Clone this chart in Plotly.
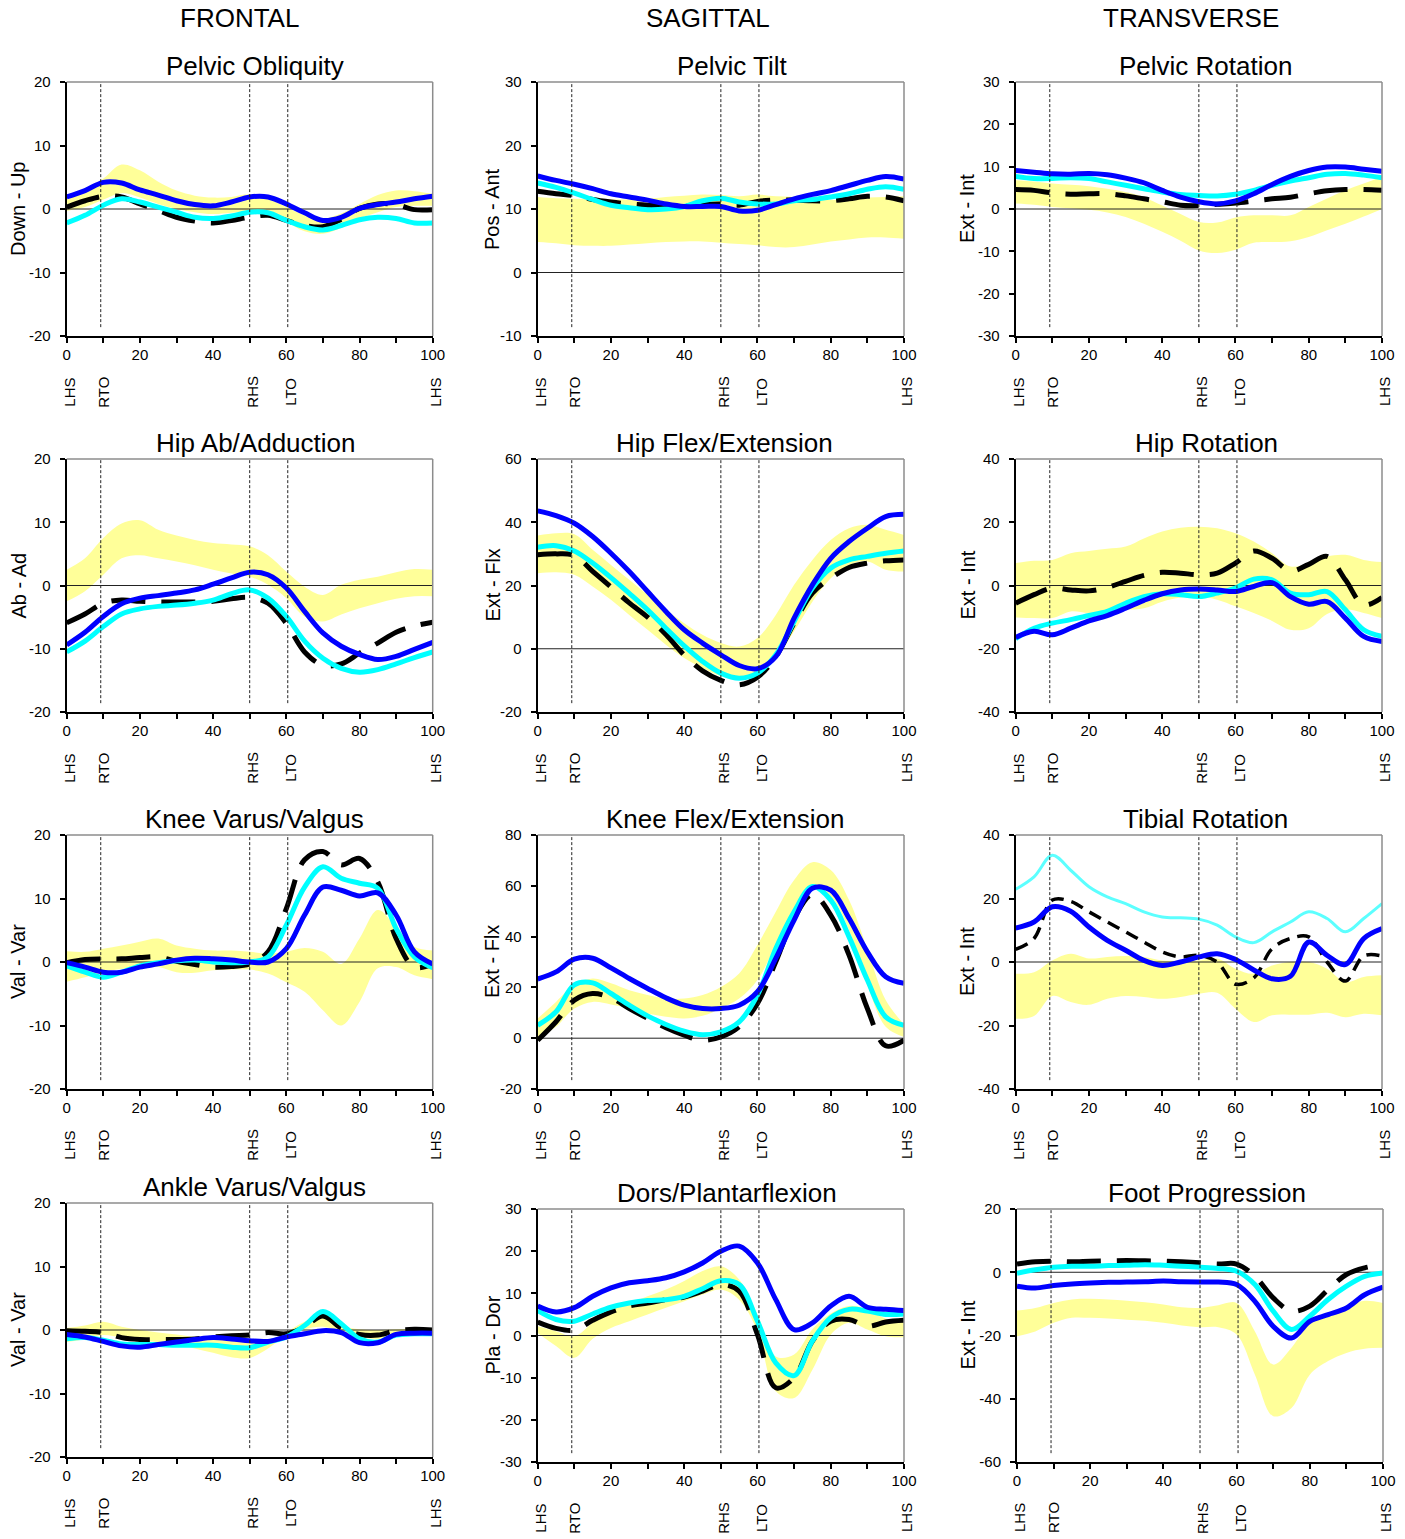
import plotly.graph_objects as go

W, H = 1405, 1539

# ---------------- data ----------------
PCT = list(range(0, 101, 5))
EVENTS = [0, 9.3, 50, 60.4, 100]
EVENT_LABELS = ["LHS", "RTO", "RHS", "LTO", "LHS"]
PLANES = ["FRONTAL", "SAGITTAL", "TRANSVERSE"]

TITLES = ["Pelvic Obliquity", "Pelvic Tilt", "Pelvic Rotation",
          "Hip Ab/Adduction", "Hip Flex/Extension", "Hip Rotation",
          "Knee Varus/Valgus", "Knee Flex/Extension", "Tibial Rotation",
          "Ankle Varus/Valgus", "Dors/Plantarflexion", "Foot Progression"]
YLABELS = ["Down - Up", "Pos - Ant", "Ext - Int",
           "Ab - Ad", "Ext - Flx", "Ext - Int",
           "Val - Var", "Ext - Flx", "Ext - Int",
           "Val - Var", "Pla - Dor", "Ext - Int"]
YMIN = [-20, -10, -30, -20, -20, -40, -20, -20, -40, -20, -30, -60]
YMAX = [20, 30, 30, 20, 60, 40, 20, 80, 40, 20, 30, 20]
YSTEP = [10, 10, 10, 10, 20, 20, 10, 20, 20, 10, 10, 20]

# Pelvic Obliquity
PO_HI = [1.5, 3.0, 4.8, 7.0, 6.1, 4.3, 2.9, 2.1, 1.8, 1.9, 2.3, 1.6, 0.3, -1.0, -1.5, -0.7, 0.8, 2.2, 2.9, 2.8, 2.4]
PO_LO = [-0.3, 0.3, 1.5, 2.5, 1.8, 0.8, 0.0, -0.5, -0.8, -0.6, -0.3, -0.6, -2.0, -3.5, -3.9, -3.0, -1.5, -0.5, 0.3, 0.5, 0.5]
PO_BLACK = [0.3, 1.3, 2.0, 1.9, 0.8, -0.2, -1.3, -1.9, -2.2, -1.8, -1.3, -1.0, -1.8, -2.6, -2.8, -1.6, 0.1, 0.8, 0.7, -0.1, -0.1]
PO_CYAN = [-2.2, -1.0, 0.6, 1.6, 1.1, 0.3, -0.5, -1.3, -1.5, -1.1, -0.5, -0.6, -1.8, -2.8, -3.3, -2.6, -1.7, -1.3, -1.5, -2.2, -2.2]
PO_BLUE = [1.9, 2.9, 4.2, 4.1, 3.0, 2.2, 1.3, 0.7, 0.5, 1.1, 1.9, 1.9, 0.8, -0.6, -1.8, -1.3, 0.1, 0.7, 1.1, 1.6, 2.0]

# Pelvic Tilt
PT_HI = [11.9, 11.7, 11.6, 11.5, 11.5, 11.5, 11.6, 11.9, 12.1, 12.3, 12.2, 12.0, 12.3, 12.0, 11.9, 11.6, 11.4, 11.6, 11.8, 11.9, 12.0]
PT_LO = [4.8, 4.6, 4.3, 4.2, 4.2, 4.4, 4.6, 4.8, 4.9, 4.9, 4.7, 4.5, 4.3, 4.0, 4.0, 4.4, 4.9, 5.2, 5.5, 5.5, 5.3]
PT_BLACK = [12.8, 12.4, 12.1, 11.5, 11.1, 10.8, 10.6, 10.5, 10.5, 10.7, 10.8, 10.6, 11.2, 11.4, 11.4, 11.3, 11.3, 11.6, 12.0, 11.9, 11.3]
PT_CYAN = [14.1, 13.4, 12.5, 11.5, 10.6, 10.2, 9.9, 10.0, 10.4, 11.3, 11.7, 11.1, 10.8, 10.8, 11.3, 11.5, 11.9, 12.4, 13.1, 13.5, 13.1]
PT_BLUE = [15.2, 14.5, 13.9, 13.2, 12.4, 11.9, 11.4, 10.8, 10.4, 10.4, 10.4, 9.7, 9.8, 10.7, 11.6, 12.3, 12.9, 13.7, 14.5, 15.1, 14.7]

# Pelvic Rotation
PR_HI = [6.8, 6.5, 6.0, 5.7, 5.4, 4.8, 4.0, 2.8, 0.8, -1.2, -3.1, -3.2, -2.0, -1.5, -1.5, -1.5, 0.5, 2.5, 4.4, 6.0, 7.6]
PR_LO = [1.3, 1.0, 0.5, 0.2, -0.2, -0.8, -1.9, -3.5, -5.4, -7.5, -9.8, -10.4, -9.6, -8.0, -7.8, -7.6, -6.6, -5.0, -3.5, -1.8, 0.0]
PR_BLACK = [4.6, 4.4, 3.8, 3.5, 3.6, 3.6, 3.1, 2.4, 1.7, 0.9, 0.8, 1.1, 1.4, 1.9, 2.4, 2.8, 3.6, 4.3, 4.6, 4.6, 4.4]
PR_CYAN = [7.7, 7.2, 7.2, 7.4, 7.2, 6.4, 5.6, 4.8, 4.0, 3.4, 3.2, 3.1, 3.5, 4.4, 5.6, 6.6, 7.4, 8.2, 8.4, 8.0, 7.4]
PR_BLUE = [9.1, 8.7, 8.3, 8.2, 8.4, 8.1, 7.3, 6.2, 4.4, 2.8, 1.7, 1.2, 1.9, 3.6, 5.8, 7.7, 9.1, 9.9, 9.9, 9.4, 8.9]

# Hip Ab/Adduction
HA_HI = [2.5, 4.3, 7.5, 9.8, 10.3, 8.8, 7.9, 7.2, 6.7, 6.5, 6.2, 4.8, 2.2, -0.2, -1.5, 0.1, 0.9, 1.4, 2.1, 2.6, 2.5]
HA_LO = [-2.5, -0.9, 1.7, 4.3, 4.8, 4.3, 3.8, 3.2, 2.5, 1.9, 1.4, 0.1, -2.0, -4.9, -5.7, -4.6, -3.6, -2.8, -2.1, -1.7, -1.7]
HA_BLACK = [-5.9, -4.5, -2.8, -2.3, -2.5, -2.6, -2.6, -2.6, -2.5, -2.1, -1.9, -2.8, -6.0, -10.5, -12.6, -12.4, -10.7, -9.1, -7.4, -6.4, -5.8]
HA_CYAN = [-10.5, -8.8, -6.5, -4.5, -3.7, -3.3, -3.1, -2.8, -2.3, -1.3, -0.7, -2.0, -4.9, -8.8, -11.5, -13.1, -13.7, -13.3, -12.4, -11.4, -10.5]
HA_BLUE = [-9.4, -7.4, -4.9, -2.9, -2.0, -1.6, -1.2, -0.7, 0.2, 1.2, 2.1, 1.7, -0.4, -4.1, -7.5, -9.6, -10.9, -11.7, -11.2, -10.1, -9.0]

# Hip Flex/Extension
HF_HI = [35.8, 36.5, 36.2, 31.3, 26.5, 21.8, 17.1, 12.3, 8.1, 4.4, 1.8, 0.7, 3.4, 10.7, 20.2, 28.1, 34.4, 38.1, 39.2, 37.6, 36.0]
HF_LO = [23.9, 24.2, 23.4, 19.7, 15.5, 10.7, 6.0, 1.3, -2.9, -6.1, -8.7, -9.8, -8.2, -2.9, 5.5, 14.9, 22.3, 26.5, 27.6, 25.0, 24.4]
HF_BLACK = [29.7, 30.0, 29.5, 24.5, 19.5, 14.5, 10.0, 4.5, -2.0, -7.0, -10.0, -11.4, -9.0, -2.5, 8.1, 17.6, 22.3, 25.7, 27.1, 27.8, 28.1]
HF_CYAN = [32.1, 32.6, 30.9, 27.1, 22.5, 17.5, 12.3, 6.5, 0.9, -4.0, -7.7, -9.3, -7.7, -1.9, 8.6, 19.2, 25.5, 28.1, 29.2, 30.2, 30.9]
HF_BLUE = [43.6, 42.1, 39.7, 35.5, 30.2, 24.4, 18.1, 11.8, 6.0, 1.8, -1.9, -5.3, -6.3, -2.5, 9.7, 20.2, 28.6, 33.9, 38.1, 41.8, 42.5]

# Hip Rotation
HR_HI = [7.1, 7.8, 8.1, 10.2, 10.9, 11.6, 12.3, 14.9, 17.1, 18.3, 18.6, 18.1, 16.5, 13.9, 10.2, 6.0, 7.1, 9.2, 9.7, 8.1, 7.4]
HR_LO = [-10.1, -10.3, -10.3, -8.2, -8.7, -8.0, -7.7, -7.2, -5.1, -3.8, -3.5, -4.5, -6.6, -8.7, -11.2, -14.0, -13.5, -9.0, -7.5, -8.7, -10.3]
HR_BLACK = [-5.6, -2.9, -0.8, -1.4, -1.7, -0.6, 1.3, 3.2, 4.2, 3.9, 3.4, 3.9, 7.1, 10.9, 8.6, 4.6, 6.7, 9.2, 1.8, -6.1, -3.8]
HR_CYAN = [-16.8, -13.5, -11.9, -10.8, -9.5, -8.2, -5.6, -3.5, -2.6, -2.9, -3.5, -2.4, -0.8, 2.0, 1.8, -2.4, -2.9, -1.9, -7.7, -14.0, -16.1]
HR_BLUE = [-16.4, -14.5, -15.6, -13.5, -11.2, -9.5, -7.2, -4.7, -2.6, -1.4, -1.1, -1.4, -1.9, -0.3, 0.9, -3.5, -5.9, -5.1, -10.3, -16.1, -17.7]

# Knee Varus/Valgus
KV_HI = [1.7, 1.6, 2.1, 2.6, 3.2, 3.7, 2.6, 2.1, 1.8, 1.8, 1.6, 1.3, 1.6, 2.2, 1.6, -0.3, 3.7, 8.2, 5.5, 2.4, 1.8]
KV_LO = [-3.1, -2.4, -1.6, -1.1, -1.1, -0.8, -1.6, -1.7, -1.3, -1.2, -1.2, -1.8, -3.2, -4.7, -7.6, -10.0, -6.3, -1.0, -0.8, -2.1, -2.7]
KV_BLACK = [-0.1, 0.4, 0.5, 0.5, 0.7, 0.8, 0.1, -0.4, -0.8, -0.7, -0.3, 1.6, 8.4, 16.1, 17.4, 15.3, 16.3, 12.6, 3.7, -0.8, -0.3]
KV_CYAN = [-0.6, -1.6, -2.4, -1.6, -0.6, -0.1, 0.2, 0.3, 0.0, -0.1, 0.0, 0.8, 5.8, 11.8, 15.0, 13.2, 12.4, 11.6, 5.3, 0.8, -0.9]
KV_BLUE = [-0.1, -0.8, -1.6, -1.6, -0.8, -0.3, 0.3, 0.6, 0.5, 0.3, 0.0, 0.0, 2.1, 7.4, 11.8, 11.3, 10.4, 10.9, 7.4, 1.6, -0.3]

# Knee Flex/Extension
KF_HI = [7.8, 14.3, 20.9, 23.5, 21.6, 18.9, 17.0, 15.6, 15.6, 17.0, 20.2, 25.5, 36.7, 49.8, 62.3, 69.3, 66.2, 54.4, 35.0, 15.0, 5.5]
KF_LO = [-0.1, 4.5, 11.7, 14.3, 13.3, 11.7, 9.7, 8.4, 7.8, 8.8, 11.7, 15.6, 22.9, 36.7, 49.8, 58.3, 55.7, 42.6, 20.9, 4.5, 0.5]
KF_BLACK = [-0.8, 6.5, 15.0, 17.6, 15.9, 11.7, 7.8, 4.1, 1.2, -0.8, 0.5, 4.5, 13.7, 30.1, 47.2, 56.6, 48.5, 32.7, 11.7, -3.0, -0.8]
KF_CYAN = [5.1, 10.4, 21.0, 21.8, 17.6, 13.0, 8.8, 5.4, 2.8, 1.4, 2.5, 6.4, 17.0, 35.3, 49.8, 59.7, 54.4, 39.9, 22.9, 8.4, 5.1]
KF_BLUE = [23.3, 26.1, 31.1, 31.5, 27.7, 23.5, 19.6, 15.9, 13.0, 11.7, 11.7, 13.0, 18.3, 31.4, 46.5, 59.0, 58.3, 47.2, 34.0, 24.2, 21.6]

# Tibial Rotation
TR_HI = [-3.7, -3.2, 0.5, 2.6, 1.1, 1.6, 1.9, 1.6, 0.5, 0.5, 0.5, 1.1, -2.1, -3.7, -1.1, 0.0, 0.0, -2.1, -6.3, -4.7, -4.2]
TR_LO = [-17.9, -17.0, -10.7, -12.6, -13.5, -11.6, -10.7, -11.0, -11.6, -11.0, -10.0, -9.7, -14.7, -18.9, -16.8, -16.6, -16.6, -16.0, -17.4, -16.3, -16.8]
TR_BLACK = [4.0, 7.4, 19.5, 19.1, 15.8, 12.6, 9.5, 6.3, 3.2, 1.6, 2.1, 0.0, -7.0, -5.0, 4.2, 7.4, 7.9, 0.0, -6.0, 1.9, 1.9]
TR_CYAN = [22.9, 26.8, 33.6, 28.9, 23.7, 20.5, 18.4, 15.8, 14.2, 13.9, 13.5, 11.6, 7.9, 6.1, 9.5, 12.6, 15.8, 13.7, 9.5, 13.7, 18.4]
TR_BLUE = [10.7, 12.6, 17.4, 16.0, 11.0, 6.8, 3.7, 0.5, -1.1, 0.0, 1.6, 2.6, 0.8, -2.5, -5.3, -4.5, 6.3, 2.1, -0.8, 7.4, 10.5]

# Ankle Varus/Valgus
AV_HI = [0.3, 0.7, 1.3, 0.5, 0.0, -0.4, -0.7, -1.1, -1.4, -1.6, -1.9, -1.6, -0.3, 1.3, 2.1, 0.7, 0.1, 0.0, 0.1, 0.2, 0.1]
AV_LO = [-1.9, -1.4, -0.8, -1.2, -1.6, -1.9, -2.3, -2.9, -3.6, -4.3, -4.4, -2.9, -0.9, 0.1, 0.5, -0.3, -1.1, -1.4, -0.8, -0.7, -0.6]
AV_BLACK = [-0.1, -0.2, -0.4, -1.2, -1.5, -1.5, -1.5, -1.4, -1.1, -0.9, -0.8, -0.4, -0.6, 0.5, 2.2, 0.3, -0.7, -0.8, -0.1, 0.1, 0.0]
AV_CYAN = [-1.4, -1.2, -1.6, -2.2, -2.3, -2.3, -2.4, -2.4, -2.4, -2.7, -2.8, -1.9, -1.1, 0.7, 2.9, 1.0, -1.4, -1.9, -0.8, -0.6, -0.6]
AV_BLUE = [-0.7, -1.1, -1.8, -2.5, -2.7, -2.3, -1.9, -1.5, -1.2, -1.4, -1.7, -1.8, -1.1, -0.6, -0.1, -0.4, -2.0, -2.0, -0.7, -0.5, -0.5]

# Dors/Plantarflexion
DP_HI = [2.2, 1.0, -0.2, 3.0, 6.2, 7.7, 9.3, 10.9, 12.9, 15.3, 16.4, 13.3, 5.0, -5.0, -4.5, 1.5, 5.2, 7.0, 6.2, 4.0, 3.4]
DP_LO = [0.6, -2.5, -5.3, -0.8, 1.8, 3.4, 5.0, 6.6, 8.1, 9.7, 10.9, 8.5, 1.0, -13.2, -14.8, -8.1, 0.2, 3.0, 1.4, -0.2, -0.4]
DP_BLACK = [3.2, 1.7, 1.3, 3.6, 5.6, 7.0, 7.7, 8.5, 9.1, 10.5, 12.1, 10.5, 0.2, -12.4, -10.0, -1.3, 3.4, 3.8, 2.2, 3.2, 3.6]
DP_CYAN = [5.9, 3.8, 3.4, 5.1, 6.7, 7.7, 8.3, 8.5, 9.3, 11.1, 13.0, 12.1, 3.4, -6.5, -9.5, -1.3, 4.2, 6.2, 5.8, 5.0, 5.1]
DP_BLUE = [7.0, 5.6, 6.6, 9.3, 11.3, 12.5, 13.0, 13.7, 15.1, 17.2, 20.0, 21.2, 17.2, 8.5, 1.4, 3.0, 7.0, 9.3, 6.7, 6.2, 5.9]

# Foot Progression
FP_HI = [-12.1, -11.3, -9.7, -8.6, -8.4, -8.6, -9.0, -9.5, -10.2, -11.1, -11.3, -10.4, -9.7, -18.7, -29.2, -23.9, -16.0, -13.4, -10.7, -9.0, -9.7]
FP_LO = [-20.2, -18.7, -16.0, -14.4, -14.4, -14.6, -15.0, -15.3, -16.0, -16.8, -17.4, -17.4, -19.7, -32.4, -45.5, -42.9, -32.4, -28.1, -25.5, -24.2, -23.9]
FP_BLACK = [2.6, 3.3, 3.5, 3.3, 3.5, 3.6, 3.7, 3.6, 3.5, 3.3, 3.0, 2.6, 2.6, -1.3, -8.1, -12.3, -10.7, -5.5, -0.7, 1.4, 2.4]
FP_CYAN = [-0.3, 0.8, 1.6, 1.9, 1.9, 2.1, 2.2, 2.4, 2.2, 1.9, 1.6, 1.2, 0.3, -3.9, -12.3, -18.1, -13.9, -8.6, -4.4, -1.3, -0.2]
FP_BLUE = [-4.4, -5.0, -4.2, -3.7, -3.4, -3.2, -3.1, -3.0, -2.8, -3.0, -3.1, -3.1, -3.9, -9.2, -17.1, -20.8, -15.5, -13.4, -11.3, -7.1, -4.7]

PANELS = [
    (PO_HI, PO_LO, PO_BLACK, PO_CYAN, PO_BLUE),
    (PT_HI, PT_LO, PT_BLACK, PT_CYAN, PT_BLUE),
    (PR_HI, PR_LO, PR_BLACK, PR_CYAN, PR_BLUE),
    (HA_HI, HA_LO, HA_BLACK, HA_CYAN, HA_BLUE),
    (HF_HI, HF_LO, HF_BLACK, HF_CYAN, HF_BLUE),
    (HR_HI, HR_LO, HR_BLACK, HR_CYAN, HR_BLUE),
    (KV_HI, KV_LO, KV_BLACK, KV_CYAN, KV_BLUE),
    (KF_HI, KF_LO, KF_BLACK, KF_CYAN, KF_BLUE),
    (TR_HI, TR_LO, TR_BLACK, TR_CYAN, TR_BLUE),
    (AV_HI, AV_LO, AV_BLACK, AV_CYAN, AV_BLUE),
    (DP_HI, DP_LO, DP_BLACK, DP_CYAN, DP_BLUE),
    (FP_HI, FP_LO, FP_BLACK, FP_CYAN, FP_BLUE),
]

# ---------------- layout geometry (pixels) ----------------
COL_X = [(66.7, 432.7), (537.7, 904.0), (1015.7, 1382.0)]
ROW_Y = [(82, 336), (459, 712), (835, 1089), (1203, 1457)]
TITLE_X = [255, 732, 1205, 255, 724, 1206, 254, 725, 1205, 254, 727, 1207]
TITLE_Y = [66, 66, 66, 443, 443, 443, 819, 819, 819, 1187, 1193, 1193]
YLAB_X = [18, 492, 967]
HEAD_X = [239, 708, 1191]

FONT = "Arial, 'Liberation Sans', sans-serif"

fig = go.Figure()
layout = dict(
    width=W, height=H, autosize=False,
    margin=dict(l=0, r=0, t=0, b=0, pad=0, autoexpand=False),
    paper_bgcolor="white", plot_bgcolor="white",
    showlegend=False, hovermode=False,
    font=dict(family=FONT, color="black", size=15),
)
shapes = []
annotations = []

for i in range(12):
    r, c = divmod(i, 3)
    x0, x1 = COL_X[c]
    y0, y1 = ROW_Y[r]
    if r == 3 and c > 0:
        y0, y1 = 1209, 1462
    if r == 3 and c == 2:
        x0, x1 = 1017, 1383
    n = "" if i == 0 else str(i + 1)
    xa, ya = "x" + n, "y" + n
    hi, lo, blk, cyn, blu = PANELS[i]

    fig.add_trace(go.Scatter(x=PCT, y=hi, xaxis=xa, yaxis=ya, mode="lines",
                             line=dict(width=0, shape="spline", color="#FFFF99")))
    fig.add_trace(go.Scatter(x=PCT, y=lo, xaxis=xa, yaxis=ya, mode="lines",
                             fill="tonexty", fillcolor="#FFFF99",
                             line=dict(width=0, shape="spline", color="#FFFF99")))
    # zero reference line drawn above the normal band
    fig.add_trace(go.Scatter(x=[0, 100], y=[0, 0], xaxis=xa, yaxis=ya, mode="lines",
                             line=dict(width=1, color="#222222")))
    tib = (i == 8)
    fig.add_trace(go.Scatter(x=PCT, y=blk, xaxis=xa, yaxis=ya, mode="lines",
                             line=dict(width=3.5 if tib else 5, shape="spline", color="black",
                                       dash="13px,8px" if tib else "34px,16px")))
    fig.add_trace(go.Scatter(x=PCT, y=cyn, xaxis=xa, yaxis=ya, mode="lines",
                             line=dict(width=3 if tib else 5, shape="spline",
                                       color="#5CFFFF" if tib else "#00FFFF")))
    fig.add_trace(go.Scatter(x=PCT, y=blu, xaxis=xa, yaxis=ya, mode="lines",
                             line=dict(width=5, shape="spline", color="#0000FF")))

    xticks = list(range(0, 101, 10))
    layout["xaxis" + n] = dict(
        domain=[x0 / W, x1 / W], anchor=ya, range=[0, 100], automargin=False,
        tickmode="array", tickvals=xticks,
        ticktext=[str(v) if v % 20 == 0 else "" for v in xticks],
        ticks="outside", ticklen=5, tickwidth=1.5, tickcolor="black",
        showline=True, linecolor="black", linewidth=2,
        showgrid=False, zeroline=False, fixedrange=True,
        tickfont=dict(size=15, family=FONT), ticklabelstandoff=-1,
    )
    yticks = list(range(YMIN[i], YMAX[i] + 1, YSTEP[i]))
    layout["yaxis" + n] = dict(
        domain=[1 - y1 / H, 1 - y0 / H], anchor=xa, range=[YMIN[i], YMAX[i]], automargin=False,
        tickmode="array", tickvals=yticks, ticktext=[str(v) for v in yticks],
        ticks="outside", ticklen=5, tickwidth=1.5, tickcolor="black",
        showline=True, linecolor="black", linewidth=2,
        showgrid=False, zeroline=False,
        fixedrange=True, tickfont=dict(size=15, family=FONT), ticklabelstandoff=6,
    )
    # gray top / right frame
    shapes.append(dict(type="line", xref=xa + " domain", yref=ya + " domain",
                       x0=0, x1=1, y0=1, y1=1, line=dict(color="#8C8C8C", width=1.5)))
    shapes.append(dict(type="line", xref=xa + " domain", yref=ya + " domain",
                       x0=1, x1=1, y0=0, y1=1, line=dict(color="#8C8C8C", width=1.5)))
    # event lines
    for ev in EVENTS[1:4]:
        shapes.append(dict(type="line", xref=xa, yref=ya + " domain",
                           x0=ev, x1=ev, y0=0.035, y1=1,
                           line=dict(color="#222222", width=1, dash="3px,2px")))
    # event labels
    for ev, lab in zip(EVENTS, EVENT_LABELS):
        annotations.append(dict(x=ev, xref=xa, y=1 - (y1 + 56) / H, yref="paper",
                                text=lab, textangle=-90, showarrow=False,
                                xanchor="center", yanchor="middle", xshift=2,
                                font=dict(size=15, family=FONT)))
    # title
    annotations.append(dict(x=TITLE_X[i] / W, y=1 - TITLE_Y[i] / H, xref="paper", yref="paper",
                            text=TITLES[i], showarrow=False, xanchor="center", yanchor="middle",
                            font=dict(size=26, family=FONT)))
    # y label
    annotations.append(dict(x=YLAB_X[c] / W, y=1 - (y0 + y1) / 2 / H, xref="paper", yref="paper",
                            text=YLABELS[i], textangle=-90, showarrow=False,
                            xanchor="center", yanchor="middle",
                            font=dict(size=20, family=FONT)))

for k, p in enumerate(PLANES):
    annotations.append(dict(x=HEAD_X[k] / W, y=1 - 18 / H, xref="paper", yref="paper",
                            text=p, showarrow=False, xanchor="center", yanchor="middle",
                            font=dict(size=26, family=FONT)))

layout["shapes"] = shapes
layout["annotations"] = annotations
fig.update_layout(**layout)
fig.write_html("out.html",
               post_script="document.body.style.margin='0';document.body.style.padding='0';")
